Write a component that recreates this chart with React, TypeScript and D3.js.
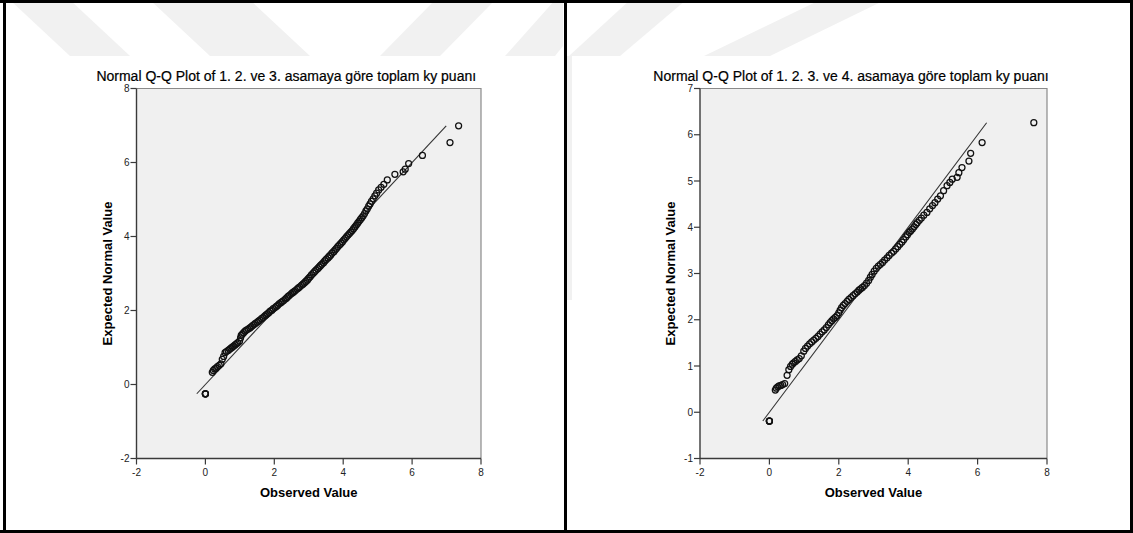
import React from "react";
import * as d3 from "d3";

const WIDTH = 1133;
const HEIGHT = 533;
const FONT = "'Liberation Sans', Arial, sans-serif";

const leftTitle = "Normal Q-Q Plot of 1. 2. ve 3. asamaya göre toplam ky puanı";
const rightTitle = "Normal Q-Q Plot of 1. 2. 3. ve 4. asamaya göre toplam ky puanı";
const xAxisTitle = "Observed Value";
const yAxisTitle = "Expected Normal Value";

const leftXTicks = [-2, 0, 2, 4, 6, 8];
const leftYTicks = [-2, 0, 2, 4, 6, 8];
const rightXTicks = [-2, 0, 2, 4, 6, 8];
const rightYTicks = [-1, 0, 1, 2, 3, 4, 5, 6, 7];

// Stage 1-3 total scores: sorted observed values and their expected normal quantiles
const leftObserved = [
  0, 0, 0, 0,
  0.2, 0.23, 0.27, 0.31, 0.35, 0.4, 0.45, 0.49, 0.53, 0.57, 0.61, 0.66, 0.7, 0.74, 0.78, 0.82,
  0.86, 0.9, 0.94, 0.99, 1.02, 1.04, 1.07, 1.11, 1.15, 1.19, 1.24, 1.29, 1.33, 1.37, 1.41, 1.45,
  1.5, 1.54, 1.58, 1.63, 1.67, 1.72, 1.76, 1.8, 1.84, 1.88, 1.93, 1.97, 2.02, 2.06, 2.1, 2.14,
  2.19, 2.23, 2.27, 2.32, 2.36, 2.4, 2.44, 2.49, 2.53, 2.57, 2.61, 2.66, 2.7, 2.74, 2.79, 2.83,
  2.87, 2.91, 2.96, 3.0, 3.04, 3.08, 3.13, 3.17, 3.21, 3.26, 3.3, 3.34, 3.38, 3.43, 3.47, 3.51,
  3.56, 3.6, 3.64, 3.68, 3.73, 3.77, 3.81, 3.85, 3.9, 3.94, 3.98, 4.02, 4.06, 4.1, 4.14, 4.18,
  4.22, 4.26, 4.3, 4.34, 4.38, 4.42, 4.46, 4.5, 4.54, 4.58, 4.62, 4.66, 4.7, 4.74, 4.78, 4.82,
  4.87, 4.92, 4.97, 5.03, 5.1, 5.18, 5.28, 5.5, 5.74, 5.8, 5.9, 6.3, 7.1, 7.35,
];
const leftExpected = [
  -0.25, -0.25, -0.25, -0.25,
  0.33, 0.38, 0.42, 0.44, 0.48, 0.52, 0.56, 0.68, 0.76, 0.86, 0.89, 0.92, 0.95, 0.98, 1.01, 1.04,
  1.07, 1.1, 1.13, 1.17, 1.26, 1.33, 1.36, 1.4, 1.44, 1.47, 1.5, 1.53, 1.56, 1.59, 1.62, 1.65,
  1.68, 1.71, 1.74, 1.78, 1.81, 1.85, 1.88, 1.91, 1.94, 1.98, 2.01, 2.05, 2.08, 2.11, 2.14, 2.18,
  2.21, 2.24, 2.27, 2.31, 2.34, 2.38, 2.41, 2.45, 2.48, 2.51, 2.54, 2.58, 2.61, 2.64, 2.68, 2.71,
  2.74, 2.78, 2.82, 2.87, 2.91, 2.96, 3.01, 3.05, 3.09, 3.13, 3.17, 3.21, 3.25, 3.29, 3.34, 3.38,
  3.42, 3.46, 3.5, 3.55, 3.59, 3.64, 3.68, 3.73, 3.78, 3.82, 3.86, 3.91, 3.95, 4.0, 4.04, 4.08,
  4.12, 4.16, 4.21, 4.26, 4.31, 4.36, 4.41, 4.46, 4.51, 4.56, 4.62, 4.69, 4.75, 4.82, 4.88, 4.95,
  5.02, 5.1, 5.17, 5.26, 5.33, 5.41, 5.53, 5.68, 5.75, 5.82, 5.97, 6.19, 6.54, 6.99,
];

// Stage 1-4 total scores
const rightObserved = [
  0, 0, 0, 0,
  0.17, 0.2, 0.24, 0.28, 0.33, 0.38, 0.44, 0.51, 0.56, 0.61, 0.66, 0.7, 0.75, 0.8, 0.86, 0.92,
  0.99, 1.04, 1.1, 1.16, 1.22, 1.28, 1.34, 1.4, 1.46, 1.52, 1.58, 1.64, 1.7, 1.75, 1.8, 1.85,
  1.9, 1.95, 2.0, 2.04, 2.08, 2.13, 2.18, 2.24, 2.29, 2.35, 2.41, 2.47, 2.53, 2.58, 2.63, 2.68,
  2.74, 2.8, 2.86, 2.91, 2.96, 3.02, 3.08, 3.14, 3.2, 3.26, 3.32, 3.39, 3.45, 3.52, 3.58, 3.64,
  3.7, 3.76, 3.82, 3.87, 3.93, 3.98, 4.03, 4.07, 4.12, 4.17, 4.22, 4.26, 4.32, 4.38, 4.45, 4.54,
  4.62, 4.7, 4.77, 4.85, 4.93, 5.02, 5.12, 5.2, 5.27, 5.41, 5.46, 5.55, 5.75, 5.8, 6.13, 7.62,
];
const rightExpected = [
  -0.19, -0.19, -0.19, -0.19,
  0.48, 0.52, 0.55, 0.57, 0.58, 0.6, 0.62, 0.8, 0.92, 0.99, 1.04, 1.07, 1.1, 1.13, 1.16, 1.22,
  1.32, 1.38, 1.43, 1.48, 1.52, 1.56, 1.6, 1.64, 1.69, 1.74, 1.78, 1.83, 1.89, 1.94, 1.98, 2.02,
  2.05, 2.09, 2.15, 2.21, 2.26, 2.31, 2.35, 2.4, 2.44, 2.48, 2.52, 2.56, 2.6, 2.64, 2.67, 2.7,
  2.74, 2.79, 2.85, 2.92, 2.98, 3.05, 3.11, 3.16, 3.2, 3.24, 3.29, 3.34, 3.39, 3.44, 3.48, 3.53,
  3.58, 3.63, 3.68, 3.73, 3.79, 3.84, 3.89, 3.92, 3.96, 4.01, 4.06, 4.1, 4.15, 4.2, 4.26, 4.32,
  4.4, 4.47, 4.53, 4.61, 4.68, 4.79, 4.9, 4.97, 5.04, 5.08, 5.18, 5.29, 5.43, 5.6, 5.83, 6.26,
];

type PanelProps = {
  left: number;
  right: number;
  top: number;
  bottom: number;
  xDomain: [number, number];
  yDomain: [number, number];
  xTicks: number[];
  yTicks: number[];
  observed: number[];
  expected: number[];
  title: string;
};

function QQPanel(p: PanelProps) {
  const x = d3.scaleLinear().domain(p.xDomain).range([p.left, p.right]);
  const y = d3.scaleLinear().domain(p.yDomain).range([p.bottom, p.top]);
  const [lo, hi] = d3.extent(p.expected) as [number, number];
  const refLine = d3.line<number>().x((v) => x(v)).y((v) => y(v))([lo, hi]) || "";
  const cx = (p.left + p.right) / 2;
  const cy = (p.top + p.bottom) / 2;
  const pts = p.observed.map((o, i) => [o, p.expected[i]] as [number, number]);
  return (
    <g>
      <text
        x={cx - 22.5}
        y={81}
        textAnchor="middle"
        fontFamily={FONT}
        fontSize={14}
        fill="#000"
        stroke="#000"
        strokeWidth={0.2}
      >
        {p.title}
      </text>
      <rect x={p.left} y={p.top} width={p.right - p.left} height={p.bottom - p.top} fill="#f0f0f0" />
      <path
        d={`M${p.left},${p.top}H${p.right}V${p.bottom}`}
        fill="none"
        stroke="#8a8a8a"
        strokeWidth={1.2}
      />
      <line x1={p.left} y1={p.top} x2={p.left} y2={p.bottom} stroke="#3a3a3a" strokeWidth={1.4} />
      <line x1={p.left} y1={p.bottom} x2={p.right} y2={p.bottom} stroke="#3a3a3a" strokeWidth={1.4} />
      {p.yTicks.map((t) => (
        <g key={"y" + t}>
          <line x1={p.left - 6} x2={p.left} y1={y(t)} y2={y(t)} stroke="#3a3a3a" strokeWidth={1.2} />
          <text
            x={p.left - 7}
            y={y(t) + 3.5}
            textAnchor="end"
            fontFamily={FONT}
            fontSize={10}
            fill="#222"
          >
            {t}
          </text>
        </g>
      ))}
      {p.xTicks.map((t) => (
        <g key={"x" + t}>
          <line x1={x(t)} x2={x(t)} y1={p.bottom} y2={p.bottom + 6} stroke="#3a3a3a" strokeWidth={1.2} />
          <text x={x(t)} y={p.bottom + 17} textAnchor="middle" fontFamily={FONT} fontSize={10} fill="#222">
            {t}
          </text>
        </g>
      ))}
      <text
        x={cx}
        y={497}
        textAnchor="middle"
        fontFamily={FONT}
        fontSize={13}
        fontWeight="bold"
        fill="#000"
      >
        {xAxisTitle}
      </text>
      <text
        transform={`translate(${p.left - 25},${cy}) rotate(-90)`}
        textAnchor="middle"
        fontFamily={FONT}
        fontSize={13}
        fontWeight="bold"
        fill="#000"
      >
        {yAxisTitle}
      </text>
      <path d={refLine} fill="none" stroke="#333" strokeWidth={1.1} />
      {pts.map(([o, e], i) => (
        <circle
          key={i}
          cx={x(o)}
          cy={y(e)}
          r={3}
          fill="none"
          stroke="#111"
          strokeWidth={1.25}
        />
      ))}
    </g>
  );
}

// faint diagonal watermark bands behind the two exported chart images
const watermarkBands = [
  "10,0 70,0 130,56 70,56",
  "150,0 250,0 310,56 210,56",
  "380,56 440,56 495,0 435,0",
  "505,56 555,56 563,46 563,0 555,0",
  "569,56 620,56 686,0 630,0",
  "704,56 770,56 885,0 820,0",
  "567,56 572,56 572,300 567,300",
];

export default function App() {
  return (
    <svg
      width={WIDTH}
      height={HEIGHT}
      style={{ position: "absolute", left: 0, top: 0, display: "block", background: "#fff" }}
    >
      <rect x={0} y={0} width={WIDTH} height={HEIGHT} fill="#fff" />
      {watermarkBands.map((pts, i) => (
        <polygon key={i} points={pts} fill="#f1f1f1" />
      ))}
      <QQPanel
        left={136.5}
        right={481}
        top={88.5}
        bottom={458.5}
        xDomain={[-2, 8]}
        yDomain={[-2, 8]}
        xTicks={leftXTicks}
        yTicks={leftYTicks}
        observed={leftObserved}
        expected={leftExpected}
        title={leftTitle}
      />
      <QQPanel
        left={700}
        right={1047}
        top={88.5}
        bottom={458.5}
        xDomain={[-2, 8]}
        yDomain={[-1, 7]}
        xTicks={rightXTicks}
        yTicks={rightYTicks}
        observed={rightObserved}
        expected={rightExpected}
        title={rightTitle}
      />
      {/* frame and divider */}
      <rect x={0} y={0} width={WIDTH} height={3} fill="#000" />
      <rect x={3} y={0} width={3} height={HEIGHT} fill="#000" />
      <rect x={WIDTH - 3} y={0} width={3} height={HEIGHT} fill="#000" />
      <rect x={0} y={HEIGHT - 3} width={WIDTH} height={3} fill="#000" />
      <rect x={564} y={0} width={3} height={HEIGHT} fill="#000" />
    </svg>
  );
}
